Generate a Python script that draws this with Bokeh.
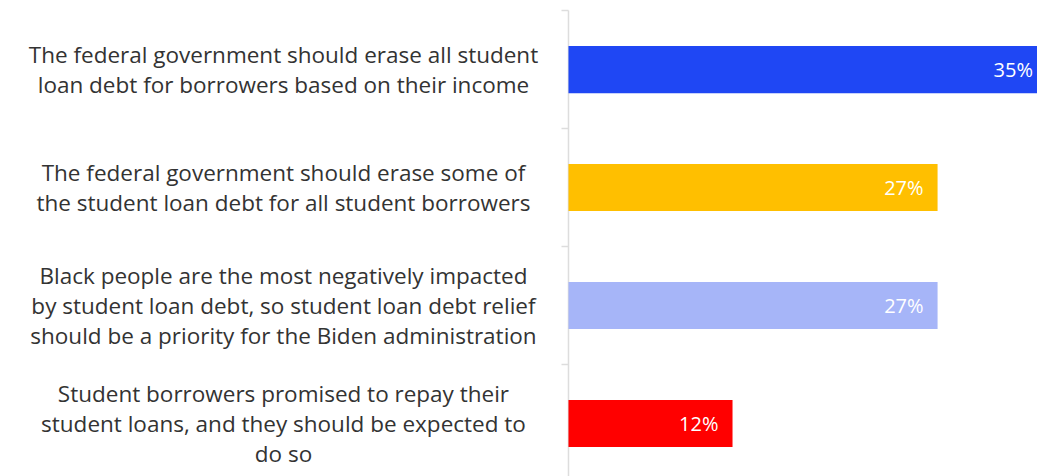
from bokeh.plotting import figure
from bokeh.models import Range1d, ColumnDataSource, FixedTicker
from bokeh.core.properties import value
from bokeh.embed import file_html
from bokeh.resources import INLINE

# ---- data ----
statements = [
    "The federal government should erase all student\nloan debt for borrowers based on their income",
    "The federal government should erase some of\nthe student loan debt for all student borrowers",
    "Black people are the most negatively impacted\nby student loan debt, so student loan debt relief\nshould be a priority for the Biden administration",
    "Student borrowers promised to repay their\nstudent loans, and they should be expected to\ndo so",
]
shares = [35, 27, 27, 12]
value_labels = ["35%", "27%", "27%", "12%"]
bar_colors = ["#1f47f4", "#ffbf00", "#a6b5f8", "#ff0000"]

n = len(statements)
pos = list(range(n))

src = ColumnDataSource(dict(
    y=pos, share=shares, lab=value_labels, color=bar_colors,
    statement=statements, zero=[0] * n,
))

FONT = "Open Sans"

p = figure(
    width=1037, height=476,
    x_range=Range1d(-41.55, 34.31),
    y_range=Range1d(start=n - 0.551, end=-0.585),
    output_backend="svg", toolbar_location=None,
    min_border=0, min_border_left=0, min_border_right=0,
    min_border_top=0, min_border_bottom=0,
)
p.outline_line_color = None
p.xgrid.visible = False
p.ygrid.visible = False
p.xaxis.visible = False
p.background_fill_color = "white"

# y axis positioned at x = 0 with ticks at the category boundaries
yax = p.yaxis[0]
yax.fixed_location = 0
yax.ticker = FixedTicker(ticks=[i - 0.5 for i in range(n + 1)])
yax.major_label_text_font_size = "0px"
yax.major_label_text_color = None
yax.axis_line_color = None
yax.major_tick_line_color = "#dddddd"
yax.major_tick_line_width = 1.5
yax.major_tick_out = 7
yax.major_tick_in = 0
yax.minor_tick_line_color = None

# axis line (from first category boundary downwards)
p.segment(x0=[0], y0=[-0.5], x1=[0], y1=[n - 0.5],
          line_color="#dddddd", line_width=1.5)

# bars
p.hbar(y="y", left="zero", right="share", height=0.4, color="color",
       source=src, line_color=None)

# value labels inside bars
p.text(x="share", y="y", text="lab", source=src, x_offset=-14,
       text_align="right", text_baseline="middle",
       text_color="white", text_font=value(FONT), text_font_size="20px")

# category labels
p.text(x=-20.85, y="y", text="statement", source=src,
       text_align="center", text_baseline="middle",
       text_color="#333333", text_font=value(FONT), text_font_size="22.5px",
       text_line_height=0.98)

open("out.html", "w").write(file_html(p, INLINE))
